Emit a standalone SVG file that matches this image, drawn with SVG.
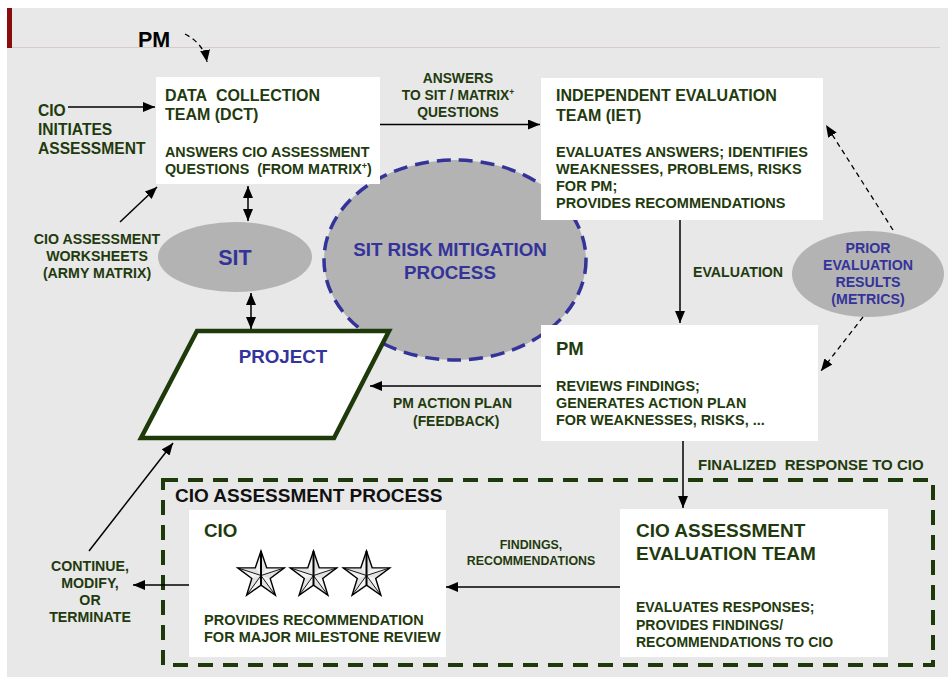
<svg xmlns="http://www.w3.org/2000/svg" width="948" height="677" viewBox="0 0 948 677">
<defs>
<marker id="ah" viewBox="0 0 12 10" refX="12" refY="5" markerWidth="12" markerHeight="10" markerUnits="userSpaceOnUse" orient="auto-start-reverse"><path d="M0,0 L12,5 L0,10 z" fill="#000"/></marker>
<g id="star">
<polygon points="0,-24.5 5.7,-7.8 23.3,-7.6 9.2,3 14.4,19.8 0,9.7 -14.4,19.8 -9.2,3 -23.3,-7.6 -5.7,-7.8" fill="#f2f2f2"/>
<polygon points="0,0 0,-24.5 5.7,-7.8" fill="#e2e2e2"/>
<polygon points="0,0 23.3,-7.6 9.2,3" fill="#e2e2e2"/>
<polygon points="0,0 14.4,19.8 0,9.7" fill="#e2e2e2"/>
<polygon points="0,0 -14.4,19.8 -9.2,3" fill="#e2e2e2"/>
<polygon points="0,0 -23.3,-7.6 -5.7,-7.8" fill="#e2e2e2"/>
<polygon points="0,-24.5 5.7,-7.8 23.3,-7.6 9.2,3 14.4,19.8 0,9.7 -14.4,19.8 -9.2,3 -23.3,-7.6 -5.7,-7.8" fill="none" stroke="#000" stroke-width="1.4"/>
<path d="M0,0 L23.3,-7.6 M0,0 L14.4,19.8 M0,0 L-14.4,19.8 M0,0 L-23.3,-7.6" stroke="#000" stroke-width="0.9" fill="none"/>
<path d="M0,-24.5 L0,9.7" stroke="#000" stroke-width="2" fill="none"/>
</g>
</defs>
<style>
.t{font-family:"Liberation Sans",Arial,Helvetica,sans-serif;font-weight:bold;fill:#1f3b0e}
.b{fill:#333399}
.k{fill:#111}
.c{text-anchor:middle}
.box{fill:#fff}
.ln{stroke:#000;stroke-width:1.5;fill:none}
.dl{stroke:#000;stroke-width:1.3;fill:none;stroke-dasharray:5 4}
.gr{fill:#b3b3b3}
</style>

<rect x="7" y="8" width="941" height="669" fill="#e8e8e8"/>
<rect x="7" y="8" width="5" height="40" fill="#8b0c0c"/>
<line x1="12" y1="47.5" x2="940" y2="47.5" stroke="#d6caca" stroke-width="1"/>

<g id="risk-process">
<ellipse cx="455" cy="260" rx="131" ry="100" class="gr" stroke="#333399" stroke-width="3.5" stroke-dasharray="14 8"/>
<text class="t b c" x="450" y="256" font-size="18.8">SIT RISK MITIGATION</text>
<text class="t b c" x="450" y="279" font-size="18.8">PROCESS</text>
</g>

<g id="pm-top">
<text class="t k" x="138" y="47" font-size="21.5" style="fill:#000">PM</text>
</g>

<g id="cio-initiates">
<text class="t" x="38" y="116" font-size="15.6">CIO</text>
<text class="t" x="38" y="135" font-size="15.6">INITIATES</text>
<text class="t" x="38" y="154" font-size="15.6">ASSESSMENT</text>
</g>

<g id="worksheets">
<text class="t c" x="97" y="244" font-size="14.2">CIO ASSESSMENT</text>
<text class="t c" x="97" y="261" font-size="14.2">WORKSHEETS</text>
<text class="t c" x="97" y="278" font-size="14.2">(ARMY MATRIX)</text>
</g>

<g id="dct">
<rect class="box" x="156" y="77" width="224" height="107"/>
<text class="t" x="165" y="101" font-size="16">DATA&#160; COLLECTION</text>
<text class="t" x="165" y="120" font-size="16">TEAM (DCT)</text>
<text class="t" x="165" y="157" font-size="14.3">ANSWERS CIO ASSESSMENT</text>
<text class="t" x="165" y="174" font-size="14.3">QUESTIONS&#160; (FROM MATRIX<tspan font-size="9" dy="-5">+</tspan><tspan dy="5">)</tspan></text>
</g>

<g id="iet">
<rect class="box" x="541" y="78" width="282" height="142"/>
<text class="t" x="556" y="101" font-size="16">INDEPENDENT EVALUATION</text>
<text class="t" x="556" y="121" font-size="16">TEAM (IET)</text>
<text class="t" x="556" y="157" font-size="14.5">EVALUATES ANSWERS; IDENTIFIES</text>
<text class="t" x="556" y="174" font-size="14.5">WEAKNESSES, PROBLEMS, RISKS</text>
<text class="t" x="556" y="191" font-size="14.5">FOR PM;</text>
<text class="t" x="556" y="208" font-size="14.5">PROVIDES RECOMMENDATIONS</text>
</g>

<g id="sit">
<ellipse class="gr" cx="235" cy="257" rx="77" ry="35"/>
<text class="t b c" x="235" y="265" font-size="21.5">SIT</text>
</g>

<g id="prior">
<ellipse class="gr" cx="868" cy="274" rx="76" ry="43"/>
<text class="t b c" x="868" y="253" font-size="14.2">PRIOR</text>
<text class="t b c" x="868" y="270" font-size="14.2">EVALUATION</text>
<text class="t b c" x="868" y="287" font-size="14.2">RESULTS</text>
<text class="t b c" x="868" y="304" font-size="14.2">(METRICS)</text>
</g>

<g id="pm">
<rect class="box" x="541" y="325" width="277" height="116"/>
<text class="t" x="556" y="355" font-size="18.5">PM</text>
<text class="t" x="556" y="391" font-size="14.4">REVIEWS FINDINGS;</text>
<text class="t" x="556" y="408" font-size="14.4">GENERATES ACTION PLAN</text>
<text class="t" x="556" y="425" font-size="14.4">FOR WEAKNESSES, RISKS, ...</text>
</g>

<g id="project">
<polygon points="197,331 389,331 334,438 141,438" fill="#fff" stroke="#1e3a0a" stroke-width="4.5" stroke-linejoin="miter"/>
<text class="t b c" x="283" y="363" font-size="18.8">PROJECT</text>
</g>

<g id="cio-process">
<rect x="163" y="480" width="770" height="185" fill="none" stroke="#1e3a0a" stroke-width="4" stroke-dasharray="15 10"/>
<text class="t k" x="175" y="502" font-size="19">CIO ASSESSMENT PROCESS</text>
</g>

<g id="cio">
<rect class="box" x="189" y="510" width="257" height="147"/>
<text class="t" x="204" y="537" font-size="18.8">CIO</text>
<use href="#star" x="261" y="575.5"/>
<use href="#star" x="313.5" y="575.5"/>
<use href="#star" x="366.5" y="575.5"/>
<text class="t" x="204" y="625" font-size="14.5">PROVIDES RECOMMENDATION</text>
<text class="t" x="204" y="642" font-size="14.5">FOR MAJOR MILESTONE REVIEW</text>
</g>

<g id="cio-eval-team">
<rect class="box" x="620" y="509" width="268" height="148"/>
<text class="t" x="636" y="537" font-size="19">CIO ASSESSMENT</text>
<text class="t" x="636" y="560" font-size="19">EVALUATION TEAM</text>
<text class="t" x="636" y="612" font-size="14">EVALUATES RESPONSES;</text>
<text class="t" x="636" y="630" font-size="14">PROVIDES FINDINGS/</text>
<text class="t" x="636" y="647" font-size="14">RECOMMENDATIONS TO CIO</text>
</g>

<g id="continue">
<text class="t c" x="90" y="571" font-size="14.2">CONTINUE,</text>
<text class="t c" x="90" y="588" font-size="14.2">MODIFY,</text>
<text class="t c" x="90" y="605" font-size="14.2">OR</text>
<text class="t c" x="90" y="622" font-size="14.2">TERMINATE</text>
</g>

<g id="connectors">
<path class="dl" d="M185,34 Q204,44 207,62" marker-end="url(#ah)"/>
<line class="ln" x1="68" y1="107" x2="155" y2="107" marker-end="url(#ah)"/>
<line class="ln" x1="120" y1="222" x2="157" y2="187" marker-end="url(#ah)"/>
<line class="ln" x1="248" y1="186" x2="248" y2="221" marker-start="url(#ah)" marker-end="url(#ah)"/>
<line class="ln" x1="251" y1="293" x2="251" y2="329" marker-start="url(#ah)" marker-end="url(#ah)"/>
<line class="ln" x1="380" y1="124.5" x2="540" y2="124.5" marker-end="url(#ah)"/>
<text class="t c" x="458" y="83" font-size="13.8">ANSWERS</text>
<text class="t c" x="458" y="100" font-size="13.8">TO SIT / MATRIX<tspan font-size="8.5" dy="-5">+</tspan></text>
<text class="t c" x="458" y="117" font-size="13.8">QUESTIONS</text>
<line class="ln" x1="680" y1="220" x2="680" y2="323" marker-end="url(#ah)"/>
<text class="t" x="693" y="277" font-size="14.2">EVALUATION</text>
<line class="dl" x1="893" y1="230" x2="826" y2="125" marker-end="url(#ah)"/>
<line class="dl" x1="863" y1="317" x2="821" y2="371" marker-end="url(#ah)"/>
<line class="ln" x1="541" y1="386" x2="370" y2="386" marker-end="url(#ah)"/>
<text class="t" x="393" y="408" font-size="13.9">PM ACTION PLAN</text>
<text class="t" x="413" y="426" font-size="13.9">(FEEDBACK)</text>
<line class="ln" x1="683" y1="441" x2="683" y2="508" marker-end="url(#ah)"/>
<text class="t" x="698" y="470" font-size="15">FINALIZED&#160; RESPONSE TO CIO</text>
<line class="ln" x1="620" y1="587" x2="446" y2="587" marker-end="url(#ah)"/>
<text class="t c" x="531" y="549" font-size="12.4">FINDINGS,</text>
<text class="t c" x="531" y="565" font-size="12.4">RECOMMENDATIONS</text>
<line class="ln" x1="189" y1="585" x2="133" y2="585" marker-end="url(#ah)"/>
<line class="ln" x1="89" y1="551" x2="173" y2="443" marker-end="url(#ah)"/>
</g>
</svg>
